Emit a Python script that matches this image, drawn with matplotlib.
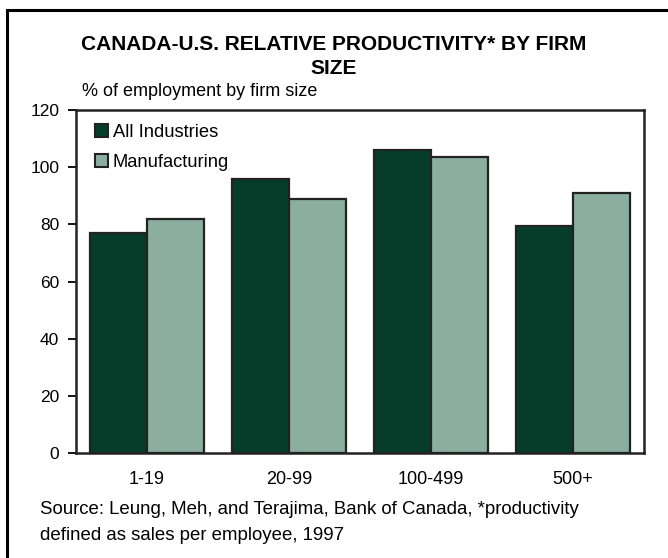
import matplotlib
matplotlib.use("Agg")
import matplotlib.pyplot as plt
from matplotlib.patches import Rectangle
import numpy as np

plt.rcParams['font.family'] = ['Liberation Sans', 'DejaVu Sans']

categories = ["1-19", "20-99", "100-499", "500+"]
all_industries = [77, 96, 106, 79.5]
manufacturing = [82, 89, 103.5, 91]
series_names = ["All Industries", "Manufacturing"]
y_ticks = [0, 20, 40, 60, 80, 100, 120]

dark_green = "#053d2a"
light_green = "#8baea1"
edge = "#222222"

W, H = 668, 558
fig = plt.figure(figsize=(W / 100, H / 100), dpi=100)

# outer frame around the whole exhibit
fig.patches.append(Rectangle((7 / W, -0.1), 1.2, (H - 10) / H + 0.1,
                             transform=fig.transFigure, fill=False,
                             edgecolor="black", linewidth=2.2))

ax = fig.add_axes([76 / W, 1 - 453 / H, (644 - 76) / W, (453 - 110) / H])

x = np.arange(len(categories))
bw = 0.4
ax.bar(x - bw / 2, all_industries, width=bw, color=dark_green,
       edgecolor=edge, linewidth=1.6)
ax.bar(x + bw / 2, manufacturing, width=bw, color=light_green,
       edgecolor=edge, linewidth=1.6)

ax.set_xlim(-0.5, len(categories) - 0.5)
ax.set_ylim(0, 120)
ax.set_yticks(y_ticks)
ax.set_yticklabels([str(v) for v in y_ticks], fontsize=12.5)
ax.set_xticks(x)
ax.set_xticklabels(categories, fontsize=13)
ax.tick_params(axis="x", length=0, pad=13)
ax.tick_params(axis="y", length=6, width=1.3, pad=6, direction="out")
for s in ax.spines.values():
    s.set_linewidth(1.8)
    s.set_color(edge)

handles = [Rectangle((0, 0), 1, 1, facecolor=dark_green, edgecolor=edge, linewidth=1.5),
           Rectangle((0, 0), 1, 1, facecolor=light_green, edgecolor=edge, linewidth=1.5)]
ax.legend(handles, series_names, loc="upper left", frameon=False, fontsize=13.2,
          handlelength=0.72, handleheight=0.72, handletextpad=0.25,
          labelspacing=0.72, borderaxespad=0, borderpad=0,
          bbox_to_anchor=((95 - 76) / 568, (453 - 124) / 343))

fig.text(334 / W, 1 - 45 / H, "CANADA-U.S. RELATIVE PRODUCTIVITY* BY FIRM",
         ha="center", va="center", fontsize=15, fontweight="bold")
fig.text(334 / W, 1 - 68 / H, "SIZE", ha="center", va="center",
         fontsize=15, fontweight="bold")
fig.text(82 / W, 1 - 91 / H, "% of employment by firm size",
         ha="left", va="center", fontsize=13)
fig.text(40 / W, 1 - 509 / H,
         "Source: Leung, Meh, and Terajima, Bank of Canada, *productivity",
         ha="left", va="center", fontsize=13.4)
fig.text(40 / W, 1 - 536 / H, "defined as sales per employee, 1997",
         ha="left", va="center", fontsize=13.4)

fig.savefig("out.png", dpi=100)
